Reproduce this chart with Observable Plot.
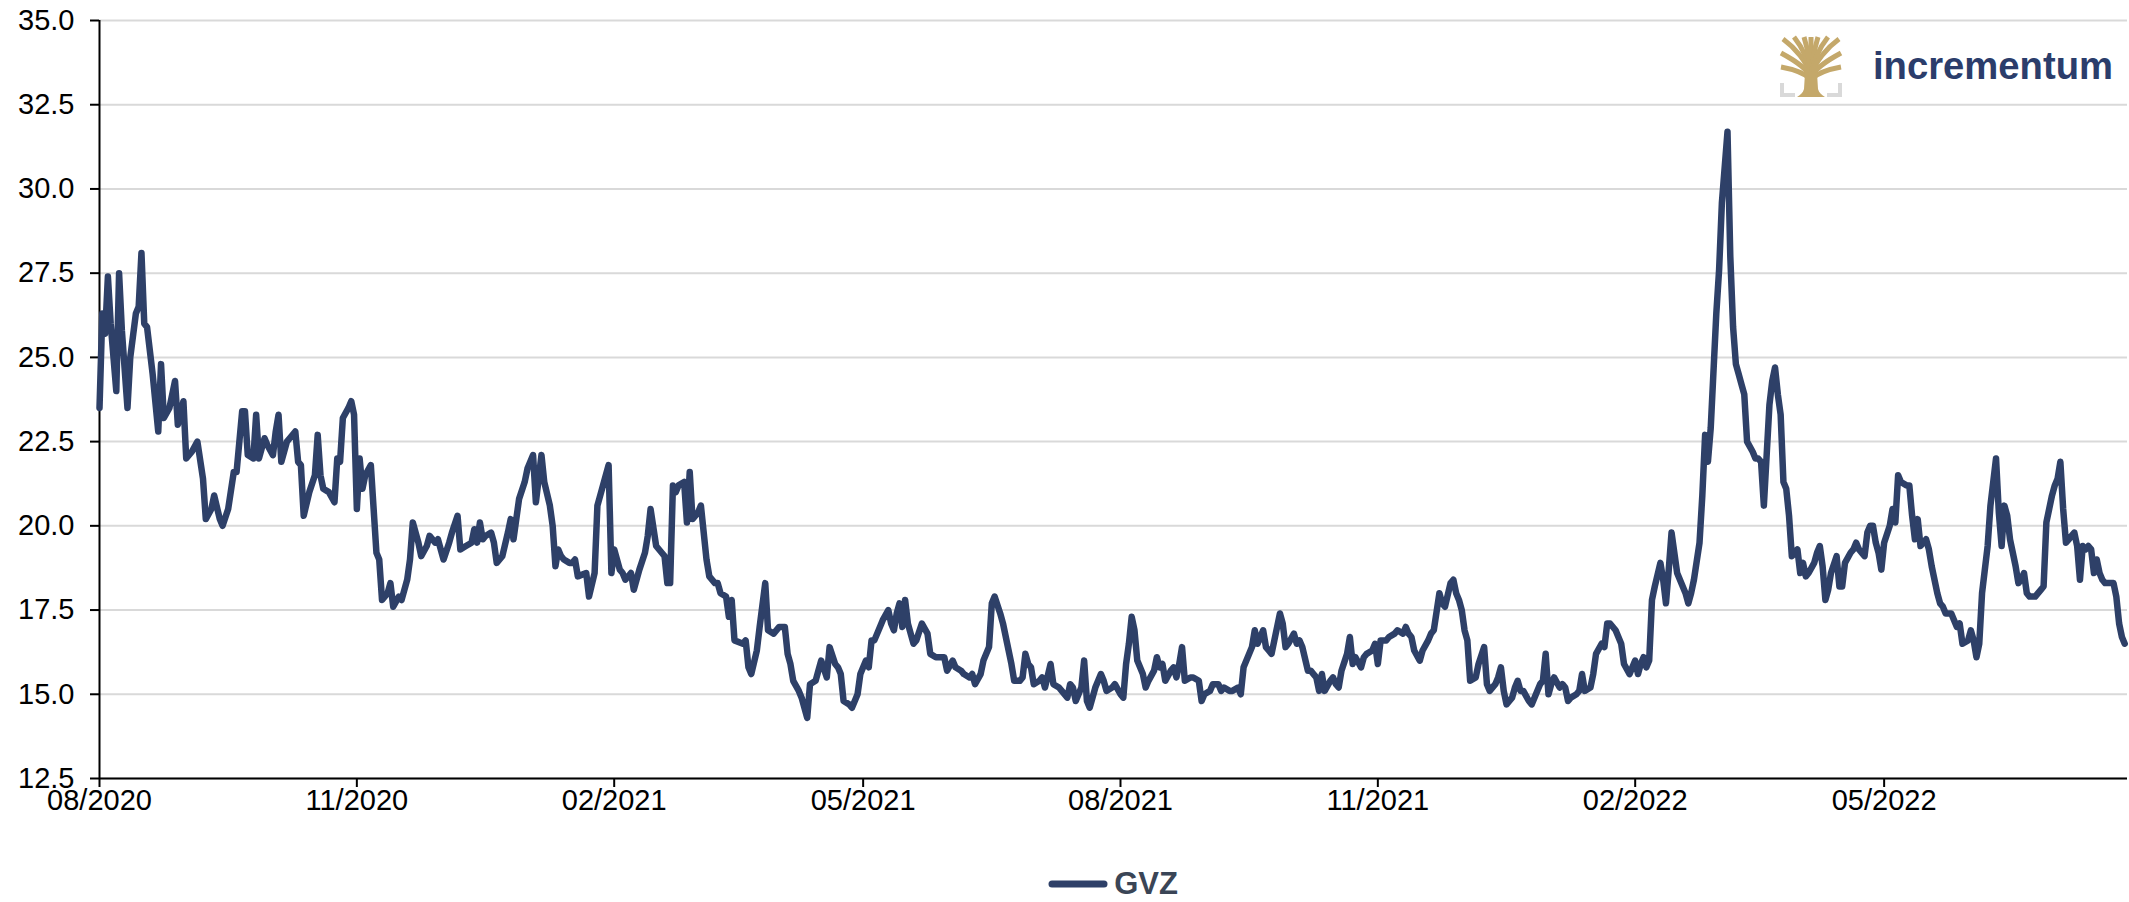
<!DOCTYPE html>
<html>
<head>
<meta charset="utf-8">
<script src="https://cdn.jsdelivr.net/npm/d3@7"></script>
<script src="https://cdn.jsdelivr.net/npm/@observablehq/plot@0.6"></script>
<style>
  html, body { margin: 0; padding: 0; background: #fff; overflow: hidden; }
  #wrap { position: relative; width: 2129px; height: 902px; }
  #legend { width: 2129px; box-sizing: border-box; padding-left: 99px; padding-right: 2px; margin-top: 37px; height: 34px;
            display: flex; align-items: center; justify-content: center; }
  #legend span { font: bold 31px "Liberation Sans", Arial, sans-serif; color: #3a4556; margin-left: 6px; }
  #logo { position: absolute; left: 1775px; top: 30px; }
</style>
</head>
<body>
<div id="wrap">
  <div id="chart"></div>
  <div id="legend">
    <svg width="60" height="12"><line x1="4" y1="6" x2="56" y2="6" stroke="#2e4068" stroke-width="7" stroke-linecap="round"/></svg>
    <span>GVZ</span>
  </div>
  <svg id="logo" width="350" height="75" viewBox="0 0 350 75">
    <g transform="translate(5,7)">
      <g stroke="#c4a86a" stroke-width="5" fill="none" stroke-linecap="butt">
        <path d="M31,40 C28,25 14,10 3,2"/>
        <path d="M31,40 C29,24 22,10 14,0"/>
        <path d="M31,40 C30,24 27,10 24,0"/>
        <path d="M31,40 L31,0"/>
        <path d="M31,40 C32,24 35,10 38,0"/>
        <path d="M31,40 C33,24 40,10 48,0"/>
        <path d="M31,40 C34,25 48,10 59,2"/>
        <path d="M31,40 C26,30 12,22 1,16"/>
        <path d="M31,40 C36,30 50,22 61,16"/>
        <path d="M31,42 C24,36 12,32 1,30"/>
        <path d="M31,42 C38,36 50,32 61,30"/>
      </g>
      <path d="M25,36 L37,36 L38,52 C39,56 42,58 45,60 L17,60 C20,58 23,56 24,52 Z" fill="#c4a86a"/>
      <g stroke="#d9d9d9" stroke-width="4" fill="none">
        <path d="M2,46 V58 H15"/>
        <path d="M60,46 V58 H47"/>
      </g>
    </g>
    <text x="98" y="49" textLength="240" lengthAdjust="spacingAndGlyphs" fill="#2b3d6b"
          style="font: bold 38px 'Liberation Sans', Arial, sans-serif;">incrementum</text>
  </svg>
</div>
<script>
const yTicks = [12.5, 15, 17.5, 20, 22.5, 25, 27.5, 30, 32.5, 35];
const xTickLabels = ["2020-08-01","2020-11-01","2021-02-01","2021-05-01","2021-08-01","2021-11-01","2022-02-01","2022-05-01"];
const xDomain = ["2020-08-01", "2022-07-27"];

const dates = [
"2020-08-01","2020-08-02","2020-08-03","2020-08-04","2020-08-05","2020-08-07","2020-08-08","2020-08-09","2020-08-11","2020-08-12","2020-08-14","2020-08-15","2020-08-16","2020-08-17","2020-08-18","2020-08-20","2020-08-22","2020-08-23","2020-08-24","2020-08-26","2020-08-28","2020-08-29","2020-08-31",
"2020-09-01","2020-09-03","2020-09-05","2020-09-07","2020-09-08","2020-09-10","2020-09-11","2020-09-13","2020-09-14","2020-09-16","2020-09-18","2020-09-19","2020-09-21","2020-09-22","2020-09-23","2020-09-25","2020-09-26","2020-09-27","2020-09-29","2020-09-30",
"2020-10-02","2020-10-03","2020-10-04","2020-10-05","2020-10-07","2020-10-08","2020-10-10","2020-10-11","2020-10-12","2020-10-13","2020-10-15","2020-10-17","2020-10-18","2020-10-19","2020-10-20","2020-10-22","2020-10-24","2020-10-25","2020-10-26","2020-10-27","2020-10-29","2020-10-30","2020-10-31",
"2020-11-01","2020-11-02","2020-11-03","2020-11-04","2020-11-06","2020-11-08","2020-11-09","2020-11-10","2020-11-12","2020-11-13","2020-11-14","2020-11-16","2020-11-17","2020-11-19","2020-11-20","2020-11-21","2020-11-23","2020-11-24","2020-11-26","2020-11-27","2020-11-29","2020-11-30",
"2020-12-02","2020-12-04","2020-12-05","2020-12-07","2020-12-08","2020-12-10","2020-12-12","2020-12-13","2020-12-14","2020-12-15","2020-12-16","2020-12-17","2020-12-19","2020-12-20","2020-12-21","2020-12-23","2020-12-25","2020-12-26","2020-12-27","2020-12-29","2020-12-31",
"2021-01-01","2021-01-03","2021-01-04","2021-01-06","2021-01-07","2021-01-09","2021-01-10","2021-01-11","2021-01-12","2021-01-13","2021-01-14","2021-01-16","2021-01-17","2021-01-18","2021-01-19","2021-01-22","2021-01-23","2021-01-25","2021-01-26","2021-01-28","2021-01-30","2021-01-31",
"2021-02-01","2021-02-03","2021-02-04","2021-02-05","2021-02-07","2021-02-08","2021-02-10","2021-02-12","2021-02-13","2021-02-14","2021-02-16","2021-02-18","2021-02-19","2021-02-20","2021-02-21","2021-02-22","2021-02-23","2021-02-24","2021-02-26","2021-02-27","2021-02-28",
"2021-03-01","2021-03-03","2021-03-04","2021-03-06","2021-03-07","2021-03-09","2021-03-10","2021-03-11","2021-03-13","2021-03-14","2021-03-15","2021-03-16","2021-03-19","2021-03-20","2021-03-21","2021-03-22","2021-03-24","2021-03-25","2021-03-27","2021-03-28","2021-03-30",
"2021-04-01","2021-04-03","2021-04-04","2021-04-05","2021-04-06","2021-04-08","2021-04-09","2021-04-11","2021-04-12","2021-04-14","2021-04-15","2021-04-16","2021-04-18","2021-04-19","2021-04-21","2021-04-22","2021-04-23","2021-04-24","2021-04-26","2021-04-27","2021-04-29","2021-04-30",
"2021-05-02","2021-05-03","2021-05-04","2021-05-05","2021-05-07","2021-05-08","2021-05-10","2021-05-11","2021-05-12","2021-05-13","2021-05-14","2021-05-15","2021-05-16","2021-05-17","2021-05-19","2021-05-20","2021-05-22","2021-05-24","2021-05-25","2021-05-27","2021-05-29","2021-05-30","2021-05-31",
"2021-06-02","2021-06-03","2021-06-05","2021-06-06","2021-06-08","2021-06-09","2021-06-10","2021-06-12","2021-06-13","2021-06-14","2021-06-15","2021-06-16","2021-06-17","2021-06-19","2021-06-20","2021-06-21","2021-06-23","2021-06-24","2021-06-26","2021-06-27","2021-06-28","2021-06-29","2021-06-30",
"2021-07-01","2021-07-03","2021-07-04","2021-07-05","2021-07-07","2021-07-08","2021-07-10","2021-07-11","2021-07-13","2021-07-14","2021-07-15","2021-07-16","2021-07-18","2021-07-19","2021-07-20","2021-07-21","2021-07-22","2021-07-23","2021-07-25","2021-07-26","2021-07-27","2021-07-29","2021-07-30",
"2021-08-01","2021-08-02","2021-08-03","2021-08-04","2021-08-05","2021-08-06","2021-08-07","2021-08-09","2021-08-10","2021-08-11","2021-08-13","2021-08-14","2021-08-15","2021-08-16","2021-08-17","2021-08-19","2021-08-20","2021-08-21","2021-08-22","2021-08-23","2021-08-24","2021-08-26","2021-08-27","2021-08-29","2021-08-30","2021-08-31",
"2021-09-02","2021-09-03","2021-09-05","2021-09-06","2021-09-07","2021-09-09","2021-09-10","2021-09-12","2021-09-13","2021-09-14","2021-09-15","2021-09-17","2021-09-18","2021-09-19","2021-09-21","2021-09-22","2021-09-23","2021-09-24","2021-09-25","2021-09-27","2021-09-28","2021-09-29","2021-09-30",
"2021-10-02","2021-10-03","2021-10-04","2021-10-05","2021-10-07","2021-10-08","2021-10-09","2021-10-10","2021-10-11","2021-10-12","2021-10-13","2021-10-15","2021-10-16","2021-10-17","2021-10-18","2021-10-19","2021-10-21","2021-10-22","2021-10-23","2021-10-24","2021-10-26","2021-10-27","2021-10-28","2021-10-30","2021-10-31",
"2021-11-01","2021-11-02","2021-11-04","2021-11-05","2021-11-07","2021-11-08","2021-11-10","2021-11-11","2021-11-12","2021-11-13","2021-11-14","2021-11-16","2021-11-17","2021-11-19","2021-11-20","2021-11-21","2021-11-23","2021-11-24","2021-11-25","2021-11-27","2021-11-28","2021-11-29","2021-11-30",
"2021-12-01","2021-12-02","2021-12-03","2021-12-04","2021-12-06","2021-12-07","2021-12-09","2021-12-10","2021-12-11","2021-12-13","2021-12-14","2021-12-15","2021-12-16","2021-12-17","2021-12-19","2021-12-20","2021-12-21","2021-12-22","2021-12-23","2021-12-25","2021-12-26","2021-12-27","2021-12-29","2021-12-30","2021-12-31",
"2022-01-01","2022-01-02","2022-01-03","2022-01-05","2022-01-06","2022-01-07","2022-01-08","2022-01-09","2022-01-11","2022-01-12","2022-01-13","2022-01-14","2022-01-16","2022-01-17","2022-01-18","2022-01-20","2022-01-21","2022-01-22","2022-01-23","2022-01-25","2022-01-26","2022-01-27","2022-01-28","2022-01-30","2022-01-31",
"2022-02-01","2022-02-02","2022-02-03","2022-02-04","2022-02-05","2022-02-06","2022-02-07","2022-02-08","2022-02-10","2022-02-11","2022-02-12","2022-02-13","2022-02-14","2022-02-16","2022-02-17","2022-02-18","2022-02-19","2022-02-20","2022-02-21","2022-02-22","2022-02-24","2022-02-25","2022-02-26","2022-02-27","2022-02-28",
"2022-03-02","2022-03-03","2022-03-04","2022-03-06","2022-03-07","2022-03-08","2022-03-09","2022-03-10","2022-03-11","2022-03-12","2022-03-13","2022-03-15","2022-03-16","2022-03-17","2022-03-18","2022-03-19","2022-03-21","2022-03-22","2022-03-23","2022-03-24","2022-03-25","2022-03-26","2022-03-27","2022-03-28","2022-03-29","2022-03-30","2022-03-31",
"2022-04-01","2022-04-02","2022-04-03","2022-04-04","2022-04-06","2022-04-07","2022-04-08","2022-04-09","2022-04-10","2022-04-11","2022-04-12","2022-04-14","2022-04-15","2022-04-16","2022-04-17","2022-04-19","2022-04-20","2022-04-21","2022-04-22","2022-04-24","2022-04-25","2022-04-26","2022-04-27","2022-04-28","2022-04-29","2022-04-30",
"2022-05-01","2022-05-03","2022-05-04","2022-05-05","2022-05-06","2022-05-07","2022-05-09","2022-05-10","2022-05-11","2022-05-12","2022-05-13","2022-05-14","2022-05-15","2022-05-16","2022-05-17","2022-05-18","2022-05-20","2022-05-21","2022-05-22","2022-05-23","2022-05-25","2022-05-26","2022-05-27","2022-05-28","2022-05-29","2022-05-31",
"2022-06-01","2022-06-02","2022-06-03","2022-06-04","2022-06-05","2022-06-07","2022-06-08","2022-06-10","2022-06-11","2022-06-12","2022-06-13","2022-06-14","2022-06-15","2022-06-16","2022-06-17","2022-06-18","2022-06-19","2022-06-20","2022-06-21","2022-06-22","2022-06-23","2022-06-24","2022-06-26","2022-06-27","2022-06-28","2022-06-29","2022-06-30",
"2022-07-01","2022-07-02","2022-07-03","2022-07-04","2022-07-05","2022-07-06","2022-07-07","2022-07-08","2022-07-09","2022-07-10","2022-07-11","2022-07-12","2022-07-13","2022-07-14","2022-07-15","2022-07-16","2022-07-17","2022-07-18","2022-07-19","2022-07-20","2022-07-22","2022-07-23","2022-07-24","2022-07-25","2022-07-26"
];

const gvz = [
23.5,26.3,25.7,27.4,26.0,24.0,27.5,25.8,23.5,25.0,26.3,26.5,28.1,26.0,25.9,24.5,22.8,24.8,23.2,23.5,24.3,23.0,23.7,
22.0,22.2,22.5,21.4,20.2,20.5,20.9,20.2,20.0,20.5,21.6,21.6,23.4,23.4,22.1,22.0,23.3,22.0,22.6,22.4,
22.1,22.8,23.3,21.9,22.5,22.6,22.8,21.9,21.8,20.3,21.0,21.5,22.7,21.5,21.1,21.0,20.7,22.0,21.9,23.2,23.5,23.7,23.3,
20.5,22.0,21.1,21.5,21.8,19.2,19.0,17.8,18.0,18.3,17.6,17.9,17.8,18.4,19.0,20.1,19.5,19.1,19.4,19.7,19.5,19.6,
19.0,19.5,19.8,20.3,19.3,19.4,19.5,19.9,19.5,20.1,19.6,19.7,19.8,19.5,18.9,19.1,19.8,20.2,19.6,20.8,21.3,
21.7,22.1,20.7,22.1,21.3,20.6,20.0,18.8,19.3,19.1,19.0,18.9,18.9,19.0,18.5,18.6,17.9,18.6,20.6,21.2,21.8,18.6,
19.3,18.7,18.6,18.4,18.6,18.1,18.7,19.2,19.7,20.5,19.4,19.2,19.1,18.3,18.3,21.2,21.0,21.2,21.3,20.1,21.6,
20.2,20.4,20.6,19.0,18.5,18.3,18.3,18.0,17.9,17.3,17.8,16.6,16.5,16.6,15.8,15.6,16.3,17.0,18.3,16.9,16.8,
17.0,17.0,16.2,15.9,15.4,15.1,14.9,14.3,15.3,15.4,15.7,16.0,15.5,16.4,15.9,15.8,15.6,14.8,14.7,14.6,15.0,15.6,
16.0,15.8,16.6,16.6,17.0,17.2,17.5,17.1,16.9,17.4,17.7,17.0,17.8,17.1,16.5,16.6,17.1,16.8,16.2,16.1,16.1,16.1,15.7,
16.0,15.8,15.7,15.6,15.5,15.6,15.3,15.6,16.0,16.2,16.4,17.7,17.9,17.4,17.1,16.7,15.9,15.4,15.4,15.5,16.2,15.9,15.8,
15.3,15.4,15.5,15.2,15.9,15.3,15.2,15.1,14.9,15.3,15.2,14.8,15.2,16.0,14.8,14.6,14.9,15.2,15.6,15.4,15.1,15.2,15.3,
15.0,14.9,15.9,16.5,17.3,16.9,16.0,15.6,15.2,15.4,15.7,16.1,15.8,15.9,15.4,15.7,15.8,15.5,15.9,16.4,15.4,15.5,15.5,15.4,14.8,15.0,
15.1,15.3,15.3,15.1,15.2,15.1,15.1,15.2,15.0,15.8,16.0,16.4,16.9,16.5,16.9,16.4,16.3,16.2,16.6,17.4,17.1,16.4,16.5,
16.8,16.5,16.6,16.4,15.7,15.7,15.6,15.5,15.1,15.6,15.1,15.4,15.5,15.3,15.2,15.7,16.2,16.7,15.9,16.1,15.8,16.1,16.2,16.3,16.5,
15.9,16.6,16.6,16.7,16.8,16.9,16.8,17.0,16.8,16.7,16.3,16.0,16.3,16.6,16.8,16.9,18.0,17.7,17.6,18.3,18.4,18.0,17.8,
17.5,16.9,16.6,15.4,15.5,15.9,16.4,15.3,15.1,15.3,15.5,15.8,15.1,14.7,14.9,15.2,15.4,15.1,15.1,14.8,14.7,14.9,15.3,15.4,16.2,
15.0,15.3,15.5,15.2,15.3,15.2,14.8,14.9,15.0,15.1,15.6,15.1,15.2,15.6,16.2,16.5,16.4,17.1,17.1,16.9,16.7,16.5,15.9,15.6,15.8,
16.0,15.6,15.9,16.1,15.8,16.0,17.8,18.2,18.9,18.4,17.7,18.7,19.8,18.6,18.4,18.2,18.0,17.7,18.0,18.4,19.5,20.9,22.7,21.9,22.9,
26.3,27.6,29.6,31.7,28.0,25.9,24.8,24.5,24.2,23.9,22.5,22.2,22.0,22.0,21.9,20.6,23.6,24.3,24.7,23.9,23.3,21.3,21.1,20.3,19.1,19.2,19.3,
18.6,18.9,18.5,18.6,18.9,19.2,19.4,18.8,17.8,18.1,18.6,19.1,18.2,18.2,18.9,19.2,19.3,19.5,19.3,19.1,19.8,20.0,20.0,19.5,19.2,18.7,
19.5,20.0,20.5,20.1,21.5,21.3,21.2,21.2,20.3,19.6,20.2,19.4,19.5,19.6,19.3,18.8,18.0,17.7,17.6,17.4,17.4,17.2,17.0,17.1,16.5,16.6,
16.9,16.6,16.1,16.5,18.0,19.4,20.6,22.0,20.4,19.4,20.6,20.3,19.6,19.2,18.8,18.3,18.4,18.6,18.0,17.9,17.9,17.9,18.1,18.2,20.1,20.5,20.9,
21.2,21.4,21.9,20.5,19.5,19.6,19.7,19.8,19.4,18.4,19.4,19.3,19.4,19.3,18.6,19.0,18.6,18.4,18.3,18.3,18.3,17.9,17.1,16.7,16.5
];

const n = Math.min(dates.length, gvz.length);
const data = [];
for (let i = 0; i < n; i++) data.push({date: new Date(dates[i]), value: gvz[i]});
const xTicks = xTickLabels.map(d => new Date(d));
const xDom = xDomain.map(d => new Date(d));

const chart = Plot.plot({
  width: 2129,
  height: 830,
  marginLeft: 99,
  marginRight: 2,
  marginTop: 20,
  marginBottom: 52,
  style: {fontFamily: "'Liberation Sans', Arial, sans-serif", fontSize: "29px", color: "#000", background: "#fff"},
  x: {type: "utc", domain: xDom},
  y: {domain: [12.5, 35]},
  marks: [
    Plot.gridY({ticks: yTicks, stroke: "#d9d9d9", strokeOpacity: 1, strokeWidth: 2}),
    Plot.axisY({ticks: yTicks, tickSize: 9, tickPadding: 16, strokeWidth: 2, tickFormat: d3.format(".1f"), label: null}),
    Plot.axisX({ticks: xTicks, tickSize: 9, tickPadding: 2, strokeWidth: 2, tickFormat: d3.utcFormat("%m/%Y"), label: null}),
    Plot.ruleY([12.5], {stroke: "#000", strokeWidth: 2}),
    Plot.ruleX([xDom[0]], {stroke: "#000", strokeWidth: 2}),
    Plot.line(data, {x: "date", y: "value", stroke: "#2e4068", strokeWidth: 6.5, strokeLinejoin: "round"})
  ]
});
document.getElementById("chart").appendChild(chart);
</script>
</body>
</html>
